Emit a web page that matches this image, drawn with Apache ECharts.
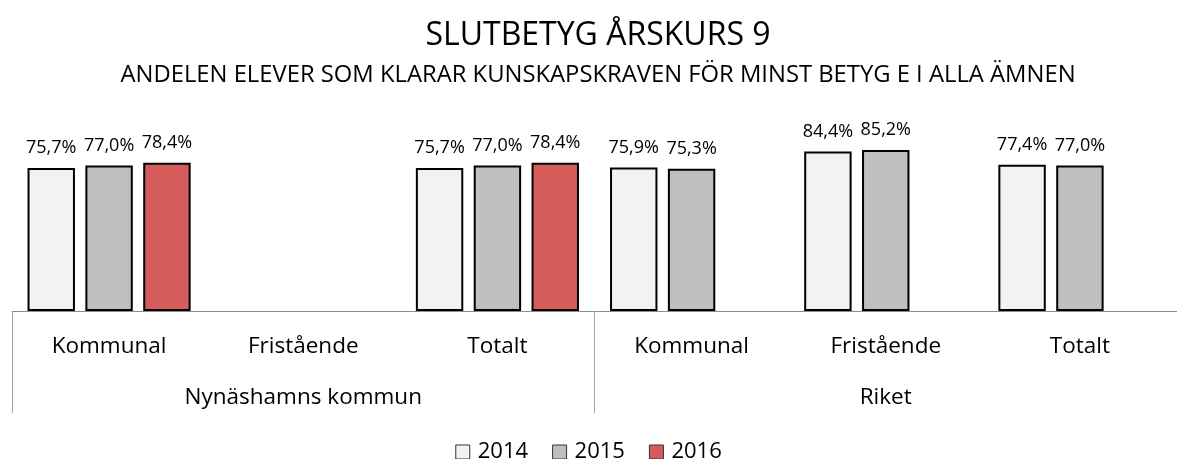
<!DOCTYPE html>
<html>
<head>
<meta charset="utf-8">
<script src="https://cdn.jsdelivr.net/npm/echarts@6/dist/echarts.min.js"></script>
<style>
  html, body { margin: 0; padding: 0; background: #fff; }
  #chart { width: 1177px; height: 459px; }
</style>
</head>
<body>
<div id="chart"></div>
<script>
// kategorier (två nivåer)
const categories = ['Kommunal', 'Fristående', 'Totalt', 'Kommunal', 'Fristående', 'Totalt'];
const groups = ['Nynäshamns kommun', 'Riket'];
const years = ['2014', '2015', '2016'];

// andel i procent, null = värde saknas
const v2014 = [75.7, null, 75.7, 75.9, 84.4, 77.4];
const v2015 = [77.0, null, 77.0, 75.3, 85.2, 77.0];
const v2016 = [78.4, null, 78.4, null, null, null];

const colors = ['#f2f2f2', '#bfbfbf', '#d65c5c'];
const font = '"Open Sans", sans-serif';

const chart = echarts.init(document.getElementById('chart'));

function bar(name, data, color) {
  return {
    name: name,
    type: 'bar',
    xAxisIndex: 0,
    data: data,
    barGap: '22%',
    barCategoryGap: '16%',
    itemStyle: { color: color, borderColor: '#000', borderWidth: 2 },
    label: {
      show: true,
      position: 'top',
      distance: 11,
      fontFamily: font,
      fontSize: 18,
      color: '#000',
      formatter: p => p.value.toFixed(1).replace('.', ',') + '%',
    },
  };
}

const option = {
  animation: false,
  color: colors,
  title: {
    text: 'SLUTBETYG ÅRSKURS 9',
    subtext: 'ANDELEN ELEVER SOM KLARAR KUNSKAPSKRAVEN FÖR MINST BETYG E I ALLA ÄMNEN',
    left: 598,
    textAlign: 'center',
    top: 20,
    padding: 0,
    itemGap: 11,
    textStyle: { fontFamily: font, fontSize: 32, fontWeight: 'normal', color: '#000' },
    subtextStyle: { fontFamily: font, fontSize: 23.8, color: '#000' },
  },
  legend: {
    data: years,
    top: 441,
    left: 'center',
    padding: 0,
    icon: 'rect',
    itemWidth: 14,
    itemHeight: 14,
    itemGap: 24,
    itemStyle: { borderWidth: 1, borderColor: '#333' },
    textStyle: { fontFamily: font, fontSize: 22, color: '#000', padding: [0, 0, 0, 3] },
  },
  grid: { left: 12, top: 122, width: 1171, bottom: 148 },
  xAxis: [
    {
      type: 'category',
      data: categories,
      axisLine: { lineStyle: { color: '#8c8c8c', width: 1 } },
      axisTick: { show: false },
      axisLabel: { margin: 24, fontFamily: font, fontSize: 22.5, color: '#000' },
    },
    {
      type: 'category',
      data: groups,
      position: 'bottom',
      axisLine: { show: false },
      axisTick: { show: true, length: 102, lineStyle: { color: '#a6a6a6', width: 1 } },
      axisLabel: { margin: 75, fontFamily: font, fontSize: 22.5, color: '#000' },
    },
  ],
  yAxis: { type: 'value', min: 0, max: 100, show: false },
  series: [
    bar('2014', v2014, colors[0]),
    bar('2015', v2015, colors[1]),
    bar('2016', v2016, colors[2]),
  ],
};

chart.setOption(option);
</script>
</body>
</html>
